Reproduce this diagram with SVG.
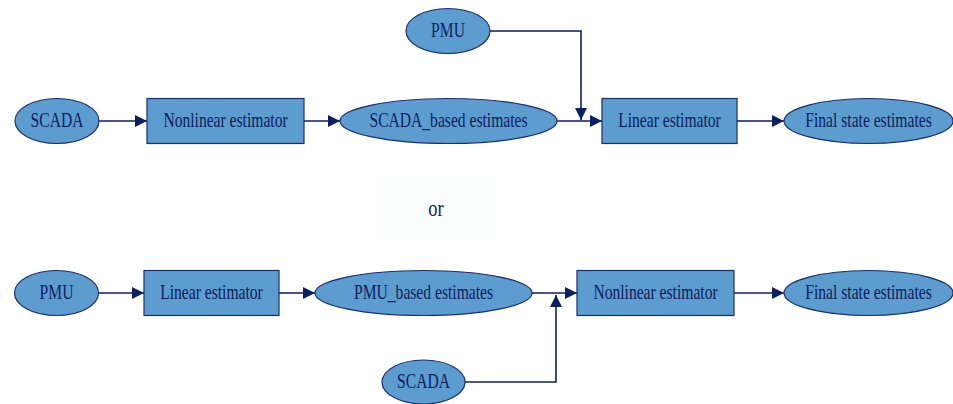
<svg xmlns="http://www.w3.org/2000/svg" width="953" height="404" viewBox="0 0 953 404">
  <style>
    .node { fill: #5c9ccf; stroke: #1a2e6e; stroke-width: 1.2; }
    .lbl { font-family: "Liberation Serif", "Times New Roman", serif; font-size: 20px; fill: #0d1d5a; text-anchor: middle; dominant-baseline: central; }
    .big { font-size: 23px; }
    .edge { fill: none; stroke: #0c1f60; stroke-width: 1.6; }
  </style>
  <defs>
    <marker id="arrow" markerWidth="12" markerHeight="12" refX="12" refY="6" orient="auto" markerUnits="userSpaceOnUse">
      <path d="M0,0 L12,6 L0,12 Z" fill="#0c1f60"/>
    </marker>
  </defs>
  <rect width="953" height="404" fill="#ffffff"/>

  <!-- connectors -->
  <g id="edges">
    <!-- upper chain -->
    <path class="edge" d="M99,121 H147" marker-end="url(#arrow)"/>
    <path class="edge" d="M304,121 H340" marker-end="url(#arrow)"/>
    <path class="edge" d="M490,31 H581 V120" marker-end="url(#arrow)"/>
    <path class="edge" d="M557,121 H602" marker-end="url(#arrow)"/>
    <path class="edge" d="M737,121 H784" marker-end="url(#arrow)"/>
    <!-- lower chain -->
    <path class="edge" d="M99,293 H144" marker-end="url(#arrow)"/>
    <path class="edge" d="M279,293 H315" marker-end="url(#arrow)"/>
    <path class="edge" d="M532,293 H577" marker-end="url(#arrow)"/>
    <path class="edge" d="M465,382 H556 V295" marker-end="url(#arrow)"/>
    <path class="edge" d="M734,293 H784" marker-end="url(#arrow)"/>
  </g>

  <!-- upper chain nodes (labels are narrowed horizontally) -->
  <g id="scada1"><ellipse class="node" cx="57" cy="121" rx="42" ry="22.5"/><text class="lbl" transform="translate(57,120) scale(0.78,1)">SCADA</text></g>
  <g id="nonlinear1"><rect class="node" x="147" y="98.5" width="157" height="45"/><text class="lbl" transform="translate(225.5,120) scale(0.78,1)">Nonlinear estimator</text></g>
  <g id="scadaBased"><ellipse class="node" cx="448.5" cy="121" rx="108.5" ry="22.5"/><text class="lbl" transform="translate(448.5,120) scale(0.78,1)">SCADA_based estimates</text></g>
  <g id="pmu1"><ellipse class="node" cx="448" cy="31" rx="42" ry="22.5"/><text class="lbl" transform="translate(448,30) scale(0.78,1)">PMU</text></g>
  <g id="linear1"><rect class="node" x="602" y="98.5" width="135" height="45"/><text class="lbl" transform="translate(669.5,120) scale(0.78,1)">Linear estimator</text></g>
  <g id="final1"><ellipse class="node" cx="868.5" cy="121" rx="84.5" ry="22.5"/><text class="lbl" transform="translate(868.5,120) scale(0.78,1)">Final state estimates</text></g>

  <!-- separator -->
  <g id="or">
    <rect x="377" y="178" width="119" height="60" fill="#fcfdff"/>
    <text class="lbl big" transform="translate(436,208) scale(0.8,1)">or</text>
  </g>

  <!-- lower chain nodes -->
  <g id="pmu2"><ellipse class="node" cx="56.5" cy="293" rx="42" ry="22.5"/><text class="lbl" transform="translate(56.5,292) scale(0.78,1)">PMU</text></g>
  <g id="linear2"><rect class="node" x="144" y="270.5" width="135" height="45"/><text class="lbl" transform="translate(211.5,292) scale(0.78,1)">Linear estimator</text></g>
  <g id="pmuBased"><ellipse class="node" cx="423.5" cy="293" rx="108.5" ry="22.5"/><text class="lbl" transform="translate(423.5,292) scale(0.78,1)">PMU_based estimates</text></g>
  <g id="scada2"><ellipse class="node" cx="423.5" cy="382" rx="41.5" ry="22"/><text class="lbl" transform="translate(423.5,381) scale(0.78,1)">SCADA</text></g>
  <g id="nonlinear2"><rect class="node" x="577" y="270.5" width="157" height="45"/><text class="lbl" transform="translate(655.5,292) scale(0.78,1)">Nonlinear estimator</text></g>
  <g id="final2"><ellipse class="node" cx="868.5" cy="293" rx="84.5" ry="22.5"/><text class="lbl" transform="translate(868.5,292) scale(0.78,1)">Final state estimates</text></g>
</svg>
